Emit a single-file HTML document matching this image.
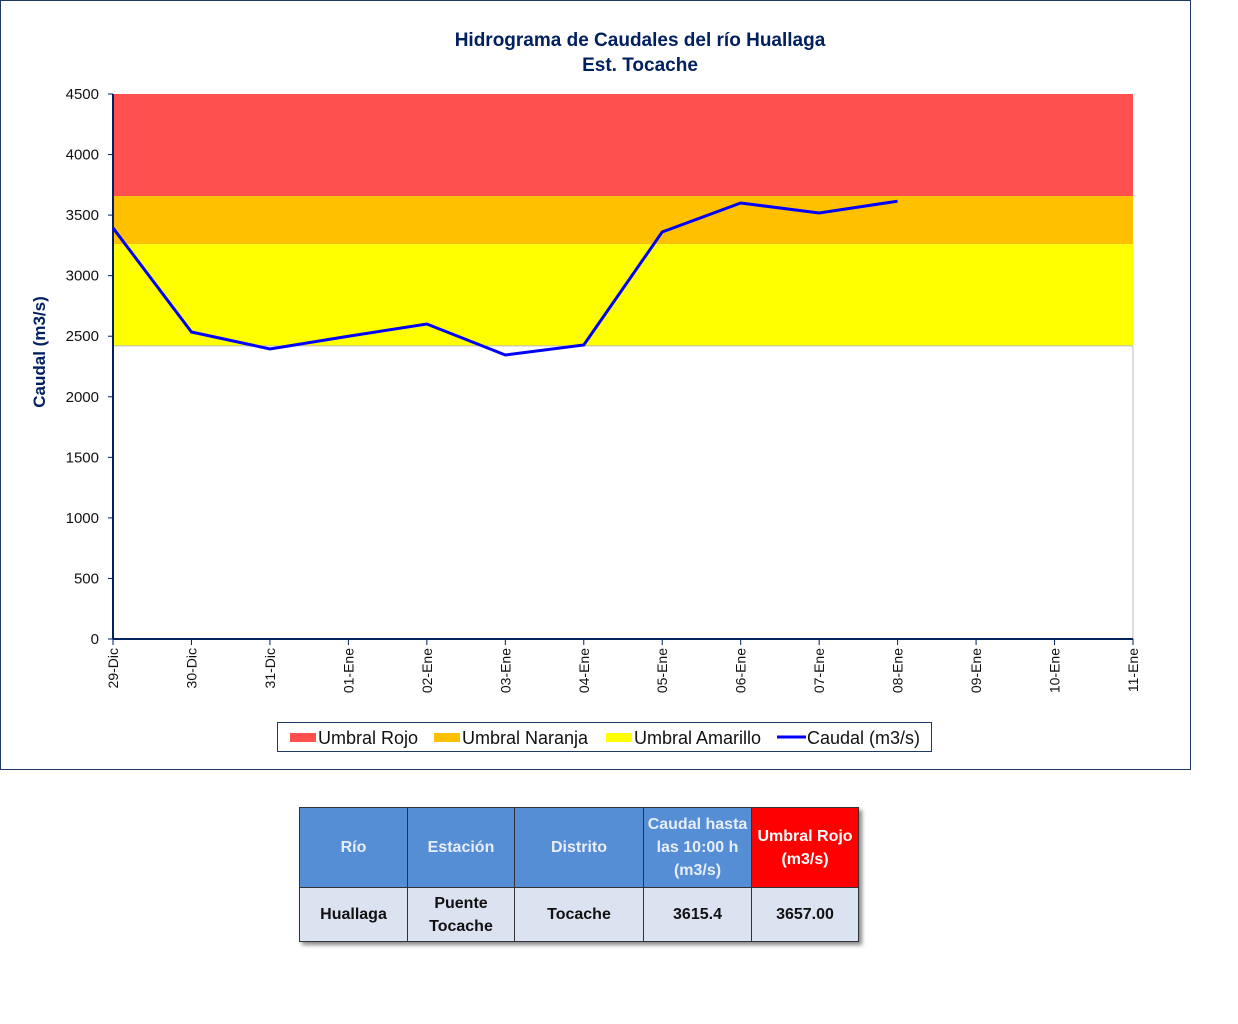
<!DOCTYPE html>
<html><head><meta charset="utf-8"><style>
body{margin:0;width:1238px;height:1024px;background:#fff;font-family:"Liberation Sans",sans-serif;position:relative;overflow:hidden}
#frame{position:absolute;left:0;top:0;width:1189px;height:768px;border:1px solid #1f3864;box-sizing:content-box}
table{position:absolute;left:299px;top:807px;border-collapse:collapse;box-shadow:3px 3px 4px #888;font-weight:bold;font-size:16px}
td{border:1px solid #333;text-align:center;padding:0;line-height:23px}
.h td{background:#558ed5;color:#e8eef8;height:79px}
.b td{background:#dbe3f1;color:#111;height:53px}
</style></head><body>
<div id="frame"></div>
<svg width="1238" height="770" style="position:absolute;left:0;top:0">
<g id="bands"></g>
<g id="axes"></g>
<text x="640" y="46" text-anchor="middle" font-size="19" font-weight="bold" fill="#002060">Hidrograma  de Caudales del río Huallaga</text>
<text x="640" y="71" text-anchor="middle" font-size="19" font-weight="bold" fill="#002060">Est. Tocache</text>
<text transform="translate(45,352) rotate(-90)" text-anchor="middle" font-size="17" font-weight="bold" fill="#002060">Caudal (m3/s)</text>
<g>
<rect x="277.5" y="722.5" width="654" height="29" fill="#fff" stroke="#1f3864"/>
<rect x="290" y="733" width="26" height="9" fill="#ff5050"/><text x="318" y="744" font-size="18" fill="#111">Umbral Rojo</text>
<rect x="434" y="733" width="26" height="9" fill="#ffc000"/><text x="462" y="744" font-size="18" fill="#111">Umbral Naranja</text>
<rect x="606" y="733" width="26" height="9" fill="#ffff00"/><text x="634" y="744" font-size="18" fill="#111">Umbral Amarillo</text>
<line x1="777" y1="737" x2="806" y2="737" stroke="#0000ff" stroke-width="3"/><text x="807" y="744" font-size="18" fill="#111">Caudal (m3/s)</text>
</g>
<polyline id="line" fill="none" stroke="#0000ff" stroke-width="3"/>
</svg>
<table>
<tr class="h"><td style="width:107px">Río</td><td style="width:106px">Estación</td><td style="width:128px">Distrito</td><td style="width:107px">Caudal hasta<br>las 10:00 h<br>(m3/s)</td><td style="width:106px;background:#ff0000;color:#fff">Umbral Rojo<br>(m3/s)</td></tr>
<tr class="b"><td>Huallaga</td><td>Puente<br>Tocache</td><td>Tocache</td><td>3615.4</td><td>3657.00</td></tr>
</table>
<script>
const categories=["29-Dic","30-Dic","31-Dic","01-Ene","02-Ene","03-Ene","04-Ene","05-Ene","06-Ene","07-Ene","08-Ene","09-Ene","10-Ene","11-Ene"];
const caudal=[3394,2535,2395,2500,2601,2345,2428,3361,3600,3518,3615];
const yTicks=[0,500,1000,1500,2000,2500,3000,3500,4000,4500];
const thresholdAmarillo=2420, thresholdNaranja=3260, thresholdRojo=3657, yMax=4500;
const X0=113,X1=1133,Y0=639,Y1=94;
const xs=i=>X0+i*(X1-X0)/(categories.length-1);
const ys=v=>Y0-(v/yMax)*(Y0-Y1);
const NS="http://www.w3.org/2000/svg";
function mk(t,a,p){const e=document.createElementNS(NS,t);for(const k in a)e.setAttribute(k,a[k]);p.appendChild(e);return e;}
const bands=document.getElementById('bands'),axes=document.getElementById('axes');
[[thresholdRojo,yMax,"#ff5050","band-rojo"],[thresholdNaranja,thresholdRojo,"#ffc000","band-naranja"],[thresholdAmarillo,thresholdNaranja,"#ffff00","band-amarillo"]].forEach(b=>{
 const r=mk('rect',{x:X0,y:ys(b[1]),width:X1-X0,height:ys(b[0])-ys(b[1]),fill:b[2]},bands);
 
 
});
mk('line',{x1:X0,y1:ys(thresholdAmarillo),x2:X1,y2:ys(thresholdAmarillo),stroke:"#bbb"},bands);
mk('line',{x1:X1,y1:ys(thresholdAmarillo),x2:X1,y2:Y0,stroke:"#bbb"},bands);
mk('line',{x1:X0,y1:Y1,x2:X0,y2:Y0,stroke:"#002060","stroke-width":2},axes);
mk('line',{x1:X0,y1:Y0,x2:X1,y2:Y0,stroke:"#002060","stroke-width":2},axes);
yTicks.forEach(v=>{
 mk('line',{x1:X0-5,y1:ys(v),x2:X0,y2:ys(v),stroke:"#002060"},axes);
 const t=mk('text',{x:99,y:ys(v)+5,"text-anchor":"end","font-size":15,fill:"#111"},axes);t.textContent=v;
 
 
});
categories.forEach((c,i)=>{
 mk('line',{x1:xs(i),y1:Y0,x2:xs(i),y2:Y0+6,stroke:"#002060"},axes);
 const t=mk('text',{transform:`translate(${xs(i)+5},648) rotate(-90)`,"text-anchor":"end","font-size":14,fill:"#111"},axes);t.textContent=c;
 
 
});
document.getElementById('line').setAttribute('points',caudal.map((v,i)=>xs(i)+","+ys(v)).join(" "));
</script>
</body></html>
